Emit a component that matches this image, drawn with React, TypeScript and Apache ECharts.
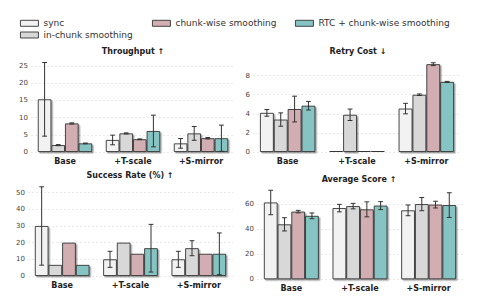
import React, { useEffect, useRef } from 'react';
import * as echarts from 'echarts';

const categories = ['Base', '+T-scale', '+S-mirror'];
const methods = ['sync', 'in-chunk smoothing', 'chunk-wise smoothing', 'RTC + chunk-wise smoothing'];
const colors = ['#f2f2f2', '#d8d8d8', '#d2aeb2', '#86c4c3'];

// values per method: [Base, +T-scale, +S-mirror]
const throughputMean = [
  [15.3, 3.5, 2.5],
  [2.0, 5.4, 5.4],
  [8.3, 3.7, 4.0],
  [2.5, 6.1, 4.0],
];
const throughputErr = [
  [10.7, 1.4, 1.4],
  [0.15, 0.15, 2.0],
  [0.15, 0.1, 0.2],
  [0.1, 4.6, 3.8],
];

const retryMean = [
  [4.1, 0.1, 4.55],
  [3.4, 3.9, 6.0],
  [4.5, 0.1, 9.2],
  [4.85, 0.1, 7.35],
];
const retryErr = [
  [0.35, 0, 0.55],
  [0.7, 0.6, 0.08],
  [1.35, 0, 0.15],
  [0.45, 0, 0.05],
];

const successMean = [
  [30, 10, 10],
  [6.67, 20, 16.67],
  [20, 13.33, 13.33],
  [6.67, 16.67, 13.33],
];
const successErr = [
  [23.5, 4.8, 4.8],
  [0, 0, 4.5],
  [0, 0, 0],
  [0, 14.3, 12.5],
];

const scoreMean = [
  [61.5, 57, 55.2],
  [44, 58.6, 60.2],
  [54.2, 56, 59.8],
  [50.8, 59, 59.4],
];
const scoreErr = [
  [9.8, 3, 4.3],
  [5.3, 2.2, 5.3],
  [1, 6, 2.7],
  [2.3, 3.2, 9.9],
];

const titles = ['Throughput ↑', 'Retry Cost ↓', 'Success Rate (%) ↑', 'Average Score ↑'];
const yTickInterval = [5, 2, 10, 20];
const yMax = [27.3, 9.85, 56.2, 75.5];

const FONT = 'DejaVu Sans';

const layout = [
  { left: 31, top: 58, width: 204, height: 94, titleX: 133, titleY: 46.5 },
  { left: 253, top: 58, width: 208, height: 94, titleX: 358, titleY: 46.5 },
  { left: 28, top: 182.3, width: 205, height: 93.7, titleX: 130, titleY: 170.5 },
  { left: 257, top: 185, width: 206, height: 94.3, titleX: 359, titleY: 174.5 },
];

const legendPos = [
  { left: 20, top: 18.3 },
  { left: 20, top: 30 },
  { left: 152, top: 18.3 },
  { left: 295, top: 18.3 },
];

const panels = [
  { mean: throughputMean, err: throughputErr },
  { mean: retryMean, err: retryErr },
  { mean: successMean, err: successErr },
  { mean: scoreMean, err: scoreErr },
];

export default function App() {
  const ref = useRef<HTMLDivElement>(null);
  useEffect(() => {
    if (!ref.current) return;
    const chart = echarts.init(ref.current, null, { renderer: 'svg' });

    const grid = layout.map((l) => ({ left: l.left, top: l.top, width: l.width, height: l.height, containLabel: false }));
    const xAxis = layout.map((_, i) => ({
      type: 'category',
      gridIndex: i,
      data: categories,
      axisLine: { show: false },
      axisTick: { show: false },
      axisLabel: { interval: 0, fontFamily: FONT, fontSize: 8, fontWeight: 'bold', color: '#222', margin: 5 },
    }));
    const yAxis = layout.map((_, i) => ({
      type: 'value',
      gridIndex: i,
      min: 0,
      max: yMax[i],
      interval: yTickInterval[i],
      axisLine: { show: false },
      axisTick: { show: false },
      axisLabel: {
        fontFamily: FONT,
        fontSize: 7,
        color: '#444',
        margin: 3,
        formatter: (v: number) => {
          const r = v / yTickInterval[i];
          return Math.abs(r - Math.round(r)) < 1e-6 ? String(Math.round(v)) : '';
        },
      },
      splitLine: { show: true, showMaxLine: false, lineStyle: { color: '#e4e4e4', width: 0.8, type: [2, 2] } },
    }));

    const series: any[] = [];
    panels.forEach((p, gi) => {
      methods.forEach((m, mi) => {
        series.push({
          type: 'bar',
          name: m,
          xAxisIndex: gi,
          yAxisIndex: gi,
          data: p.mean[mi],
          barGap: '0%',
          barCategoryGap: '20%',
          itemStyle: {
            color: colors[mi],
            borderColor: '#333',
            borderWidth: 0.9,
            shadowColor: 'rgba(0,0,0,0.35)',
            shadowBlur: 1.5,
            shadowOffsetX: 1.5,
            shadowOffsetY: 1.5,
          },
          emphasis: { disabled: true },
        });
      });
      const errData: number[][] = [];
      methods.forEach((_, mi) => {
        categories.forEach((_, ci) => {
          const e = p.err[mi][ci];
          if (e > 0) errData.push([ci, mi, p.mean[mi][ci] - e, p.mean[mi][ci] + e]);
        });
      });
      series.push({
        type: 'custom',
        xAxisIndex: gi,
        yAxisIndex: gi,
        data: errData,
        encode: { x: 0, y: [2, 3] },
        z: 10,
        renderItem: (params: any, api: any) => {
          const c = api.value(0);
          const mi = api.value(1);
          const lo = api.value(2);
          const hi = api.value(3);
          const band = api.size([1, 0])[0];
          const off = (mi - 1.5) * band * 0.2;
          const p1 = api.coord([c, lo]);
          const p2 = api.coord([c, hi]);
          const x = p1[0] + off;
          const cap = 2.4;
          const st = { stroke: '#333', lineWidth: 1 };
          return {
            type: 'group',
            children: [
              { type: 'line', shape: { x1: x, y1: p1[1], x2: x, y2: p2[1] }, style: st },
              { type: 'line', shape: { x1: x - cap, y1: p1[1], x2: x + cap, y2: p1[1] }, style: st },
              { type: 'line', shape: { x1: x - cap, y1: p2[1], x2: x + cap, y2: p2[1] }, style: st },
            ],
          };
        },
      });
    });

    const title = titles.map((t, i) => ({
      text: t,
      left: layout[i].titleX,
      top: layout[i].titleY,
      textAlign: 'center',
      padding: 0,
      textStyle: { fontFamily: FONT, fontSize: 8, fontWeight: 'bold', color: '#222', lineHeight: 10 },
    }));

    const legend = methods.map((m, i) => ({
      data: [m],
      left: legendPos[i].left,
      top: legendPos[i].top,
      padding: 0,
      icon: 'rect',
      itemWidth: 18,
      itemHeight: 6,
      selectedMode: false,
      itemStyle: { borderColor: '#333', borderWidth: 0.9, shadowBlur: 0, shadowOffsetX: 0, shadowOffsetY: 0 },
      textStyle: { fontFamily: FONT, fontSize: 9, color: '#333', lineHeight: 10 },
    }));

    chart.setOption({
      animation: false,
      backgroundColor: '#ffffff',
      title,
      legend,
      grid,
      xAxis,
      yAxis,
      series,
    });
    return () => chart.dispose();
  }, []);
  return <div ref={ref} style={{ position: 'fixed', left: 0, top: 0, width: 479, height: 299 }} />;
}
